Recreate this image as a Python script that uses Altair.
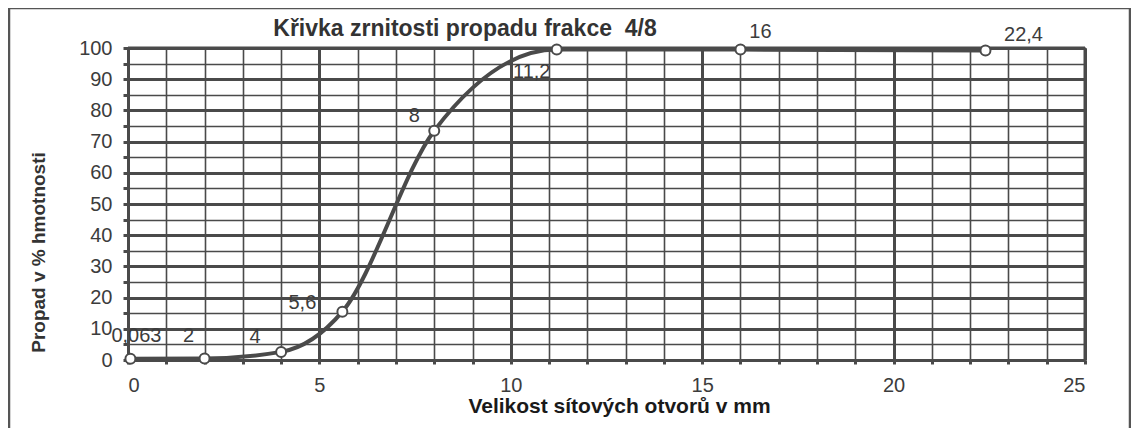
import altair as alt
import pandas as pd

# data
sieve = [0.063, 2, 4, 5.6, 8, 11.2, 16, 22.4]
passing = [0.4, 0.5, 2.6, 15.5, 73.5, 99.5, 99.5, 99.2]
labels = ["0,063", "2", "4", "5,6", "8", "11,2", "16", "22,4"]
title_text = "Křivka zrnitosti propadu frakce\u00a0 4/8"

x_ticks = list(range(0, 26))
y_ticks = list(range(0, 101, 5))

df = pd.DataFrame({"x": sieve, "y": passing, "lab": labels})

INK = "#4a4a4a"
TXT = "#3c3c3c"
FONT = "Liberation Sans"

xs = alt.Scale(domain=[0, 25], nice=False, zero=False)
ys = alt.Scale(domain=[0, 100], nice=False)

x_axis = alt.Axis(
    values=x_ticks,
    labelExpr="datum.value % 5 == 0 ? datum.label : ''",
    labelOverlap=False,
    title="Velikost sítových otvorů v mm",
    titleFont=FONT, titleFontSize=21, titleFontWeight="bold", titleColor="#1a1a1a",
    titleX=491, titleY=52, titleBaseline="alphabetic",
    labelFont=FONT, labelFontSize=20, labelColor=TXT, labelPadding=11,
    tickSize=4, tickWidth=3, tickColor=INK,
    domainColor=INK, domainWidth=3,
    grid=True, gridColor=INK,
    gridWidth={"condition": {"test": "datum.value % 5 === 0", "value": 3}, "value": 1.6},
)
y_axis = alt.Axis(
    values=y_ticks,
    labelExpr="datum.value % 10 == 0 ? datum.label : ''",
    labelOverlap=False,
    title="Propad v % hmotnosti",
    titleFont=FONT, titleFontSize=19, titleFontWeight="bold", titleColor="#333333",
    titleAngle=-90, titleX=-84, titleY=204, titleBaseline="alphabetic",
    labelFont=FONT, labelFontSize=20, labelColor=TXT, labelPadding=11,
    tickSize=5, tickWidth=3, tickColor=INK,
    domainColor=INK, domainWidth=3,
    grid=True, gridColor=INK,
    gridWidth={"condition": {"test": "datum.value % 10 === 0", "value": 3}, "value": 1.6},
)

X = alt.X("x:Q", scale=xs, axis=x_axis)
Y = alt.Y("y:Q", scale=ys, axis=y_axis)

base = alt.Chart(df)

line = base.mark_line(color=INK, strokeWidth=4, interpolate="monotone").encode(x=X, y=Y)

pts = base.mark_point(shape="circle", filled=True, fill="white", stroke=INK,
                      strokeWidth=2, size=100, opacity=1).encode(x=X, y=Y)

offsets = {
    "0,063": (6, -23), "2": (-16, -22), "4": (-26, -15), "5,6": (-40, -9),
    "8": (-20, -15), "11,2": (-25, 22), "16": (20, -18), "22,4": (38, -15),
}
texts = []
for lab, (dx, dy) in offsets.items():
    texts.append(
        base.transform_filter(alt.datum.lab == lab).mark_text(
            font=FONT, fontSize=20, color=TXT, dx=dx, dy=dy,
            align="center", baseline="middle"
        ).encode(x=X, y=Y, text="lab:N")
    )

top_edge = alt.Chart(pd.DataFrame({"y": [100]})).mark_rule(color=INK, strokeWidth=3).encode(
    y=Y, x=alt.value(0), x2=alt.value(957))
right_edge = alt.Chart(pd.DataFrame({"x": [25]})).mark_rule(color=INK, strokeWidth=3).encode(
    x=X, y=alt.value(0), y2=alt.value(312))

frame = alt.Chart(pd.DataFrame({"a": [0]})).mark_rect(
    fill=None, stroke="#555555", strokeWidth=2.5).encode(
    x=alt.value(-119), x2=alt.value(1002), y=alt.value(-40), y2=alt.value(420))

title = alt.Chart(pd.DataFrame({"t": [title_text]})).mark_text(
    font=FONT, fontSize=23, fontWeight="bold", color="#333333",
    align="center", baseline="alphabetic").encode(
    text="t:N", x=alt.value(337), y=alt.value(-12))

chart = alt.layer(line, top_edge, right_edge, pts, *texts, frame, title).properties(
    width=957, height=312,
    autosize=alt.AutoSizeParams(type="none"),
    padding={"left": 120, "top": 40, "right": 46, "bottom": 68},
).configure_view(stroke=None).configure(background="white")

chart.save("out.html", embed_options={"renderer": "svg", "actions": False})
